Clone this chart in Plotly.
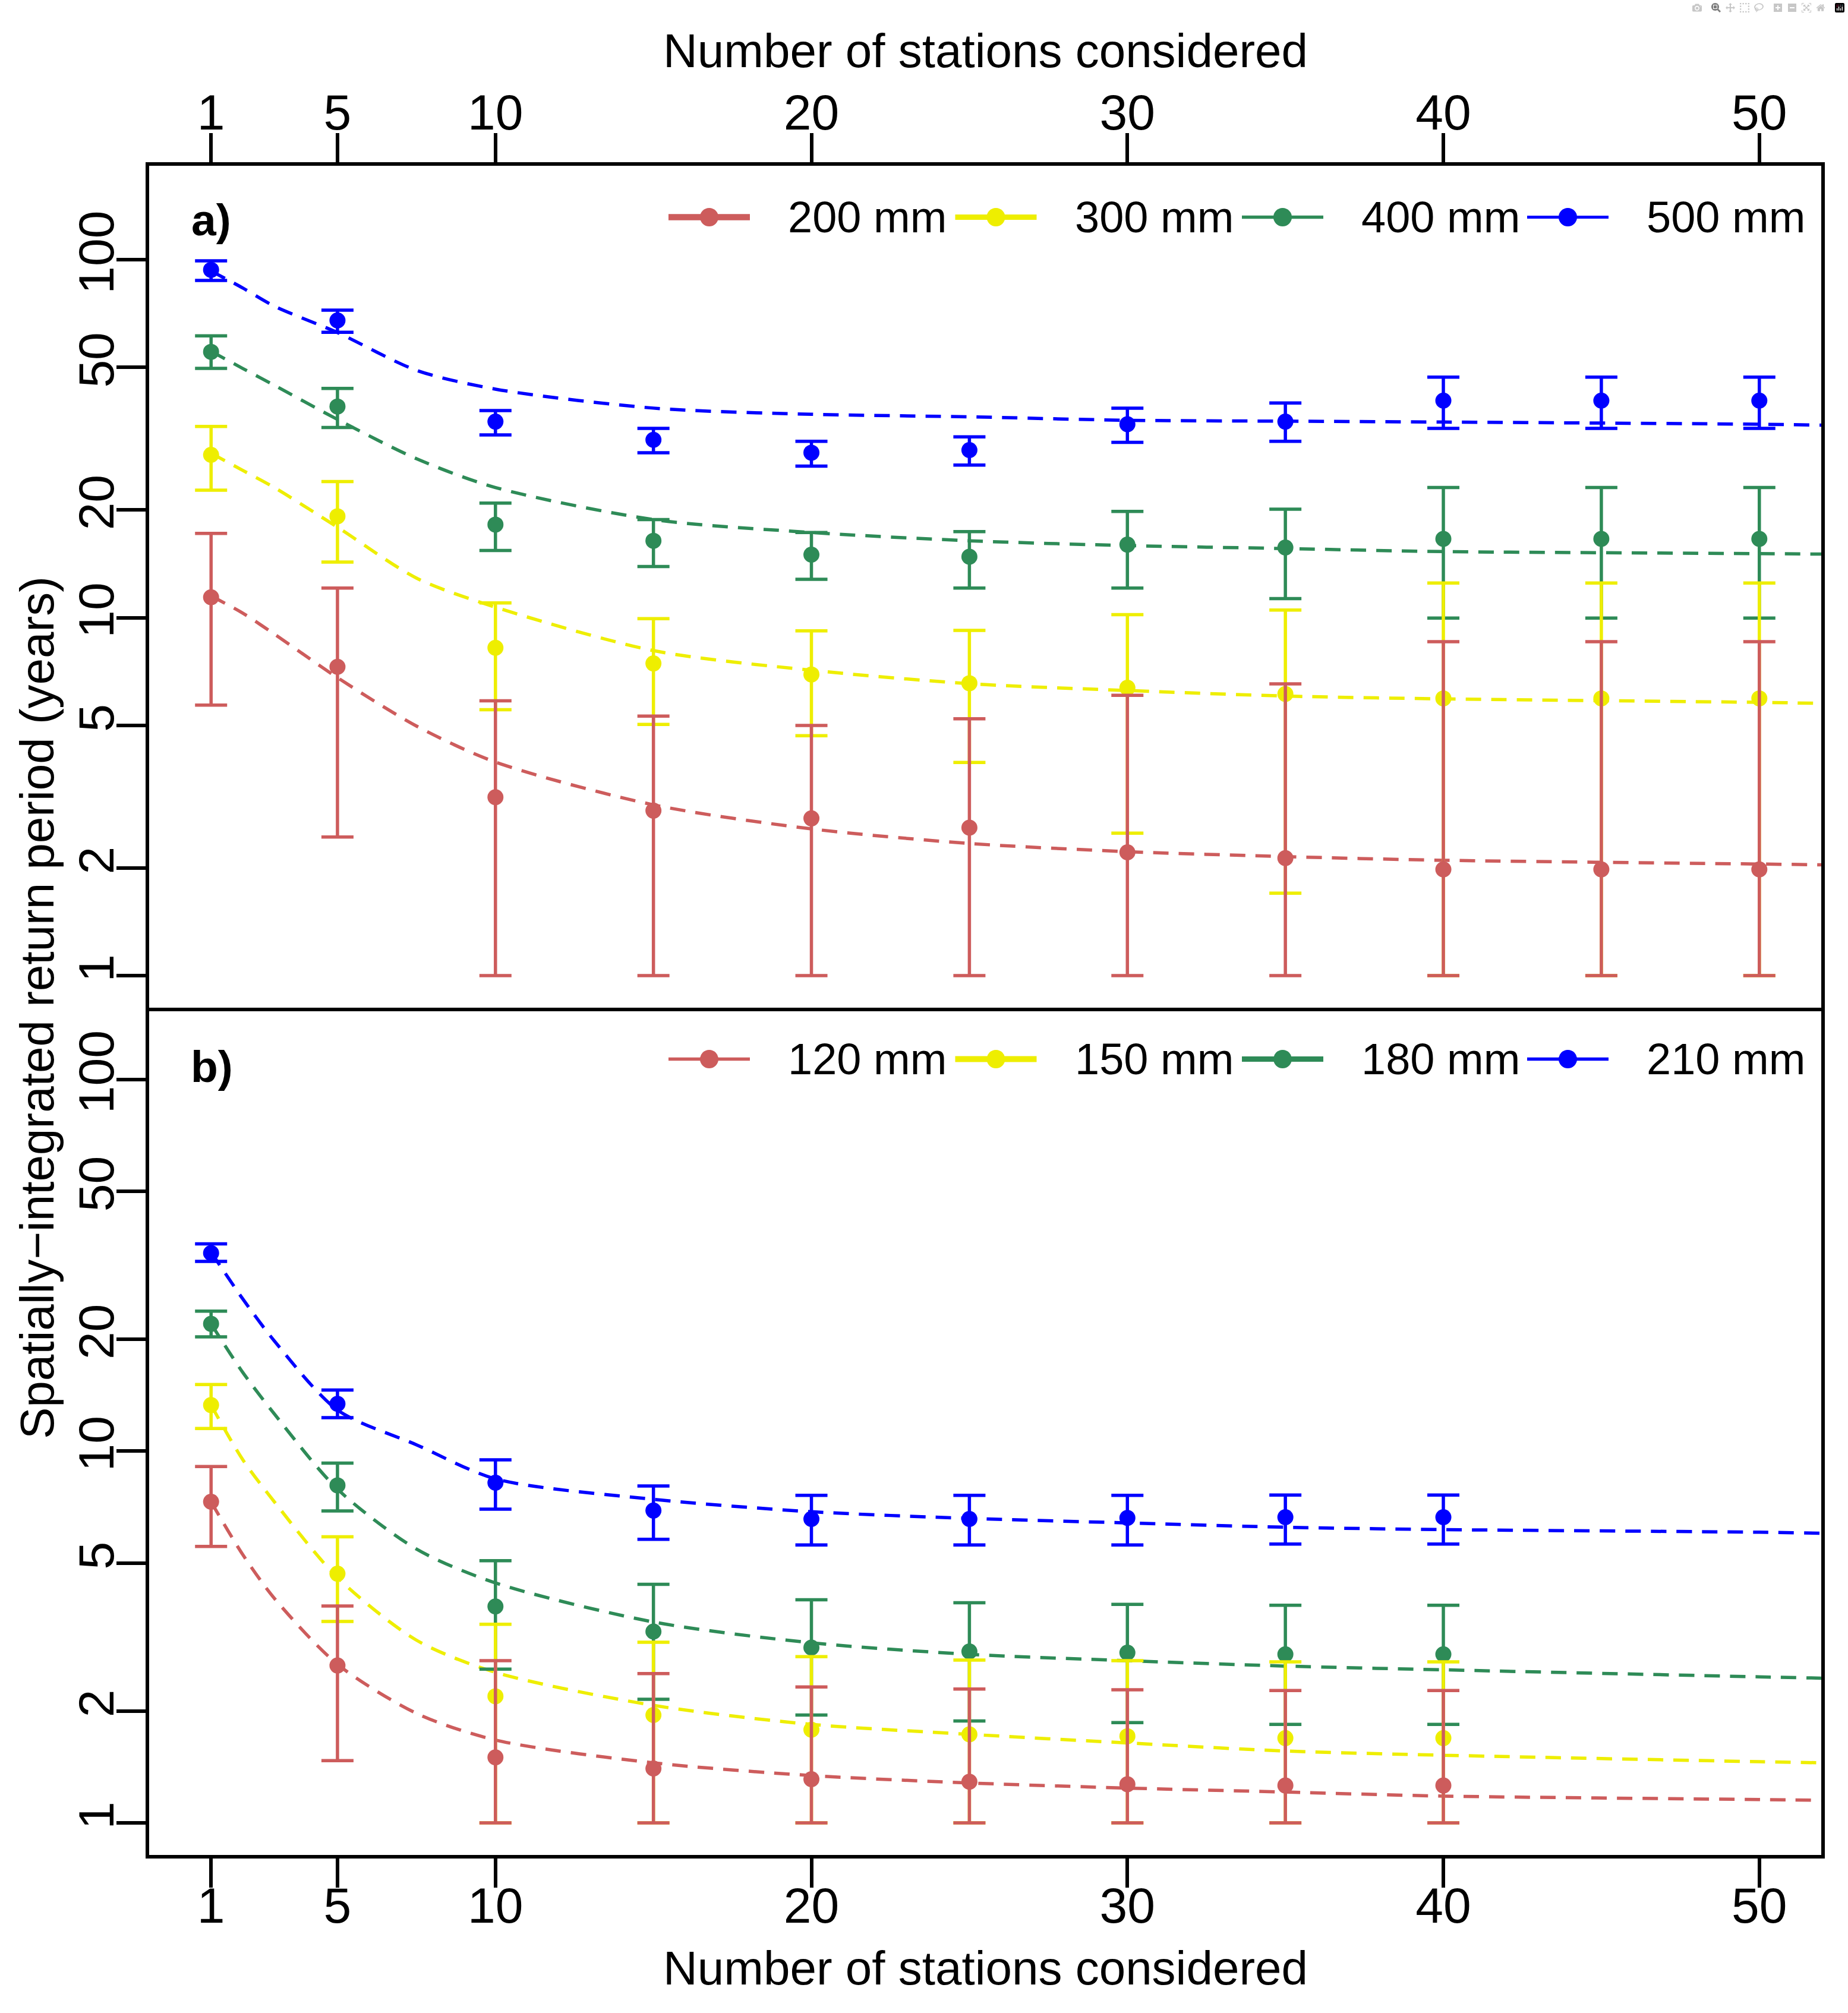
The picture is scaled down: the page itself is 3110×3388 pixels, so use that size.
import plotly.graph_objects as go

# ---------------- data ----------------
stations_a = [1, 5, 10, 15, 20, 25, 30, 35, 40, 45, 50]
stations_b = [1, 5, 10, 15, 20, 25, 30, 35, 40]
curve_x = [1, 2, 3, 5, 7.5, 10, 15, 20, 25, 30, 35, 40, 50, 52]

x_tick_vals = [1, 5, 10, 20, 30, 40, 50]
y_tick_vals = [1, 2, 5, 10, 20, 50, 100]
y_tick_text = ["1", "2", "5", "10", "20", "50", "100"]

labels_a = ["200 mm", "300 mm", "400 mm", "500 mm"]
labels_b = ["120 mm", "150 mm", "180 mm", "210 mm"]
colors = ["#CD5C5C", "#EEEE00", "#2E8B57", "#0000FF"]

# panel a) -- points, upper and lower bounds, fitted curve
a200_mid = [11.4, 7.29, 3.15, 2.89, 2.75, 2.59, 2.21, 2.13, 1.98, 1.98, 1.98]
a200_up = [17.2, 12.1, 5.86, 5.31, 5.00, 5.22, 6.07, 6.53, 8.57, 8.57, 8.57]
a200_lo = [5.70, 2.44, 1.0, 1.0, 1.0, 1.0, 1.0, 1.0, 1.0, 1.0, 1.0]
a200_fit = [11.5, 10.3, 9.0, 6.8, 4.98, 3.95, 3.0, 2.57, 2.34, 2.22, 2.15, 2.10, 2.05, 2.04]

a300_mid = [28.5, 19.2, 8.24, 7.45, 6.94, 6.56, 6.37, 6.12, 5.95, 5.95, 5.95]
a300_up = [34.2, 24.0, 11.0, 9.94, 9.19, 9.21, 10.2, 10.5, 12.5, 12.5, 12.5]
a300_lo = [22.7, 14.3, 5.53, 5.03, 4.68, 3.94, 2.50, 1.70, 1.0, 1.0, 1.0]
a300_fit = [28.8, 25.8, 23.1, 17.9, 12.9, 10.7, 8.09, 7.13, 6.54, 6.26, 6.04, 5.93, 5.80, 5.76]

a400_mid = [55.3, 38.9, 18.2, 16.4, 15.0, 14.8, 16.0, 15.7, 16.6, 16.6, 16.6]
a400_up = [61.3, 43.7, 20.9, 18.8, 17.3, 17.4, 19.8, 20.1, 23.1, 23.1, 23.1]
a400_lo = [49.7, 34.0, 15.4, 13.9, 12.8, 12.1, 12.1, 11.3, 9.97, 9.97, 9.97]
a400_fit = [55.5, 49.7, 44.6, 35.8, 27.8, 23.1, 18.8, 17.3, 16.4, 15.9, 15.6, 15.3, 15.1, 15.05]

a500_mid = [93.7, 67.7, 35.3, 31.4, 28.9, 29.4, 34.7, 35.3, 40.4, 40.4, 40.4]
a500_up = [99.3, 72.3, 37.9, 33.8, 31.1, 32.0, 38.5, 39.8, 47.0, 47.0, 47.0]
a500_lo = [87.5, 62.7, 32.4, 28.9, 26.5, 26.7, 30.9, 31.1, 33.8, 33.8, 33.8]
a500_fit = [93.0, 83.4, 74.2, 62.6, 49.1, 43.5, 38.5, 37.0, 36.4, 35.6, 35.4, 35.2, 34.7, 34.5]

# panel b)
b120_mid = [7.31, 2.65, 1.50, 1.40, 1.31, 1.29, 1.27, 1.26, 1.26]
b120_up = [9.09, 3.83, 2.73, 2.52, 2.32, 2.29, 2.28, 2.27, 2.27]
b120_lo = [5.54, 1.47, 1.0, 1.0, 1.0, 1.0, 1.0, 1.0, 1.0]
b120_fit = [7.3, 5.27, 4.02, 2.67, 1.97, 1.67, 1.45, 1.34, 1.28, 1.24, 1.21, 1.18, 1.155, 1.15]

b150_mid = [13.3, 4.68, 2.19, 1.95, 1.78, 1.73, 1.71, 1.69, 1.69]
b150_up = [15.1, 5.88, 3.42, 3.06, 2.80, 2.74, 2.73, 2.71, 2.71]
b150_lo = [11.5, 3.48, 1.0, 1.0, 1.0, 1.0, 1.0, 1.0, 1.0]
b150_fit = [13.3, 9.49, 7.31, 4.57, 3.1, 2.54, 2.07, 1.84, 1.73, 1.64, 1.56, 1.52, 1.46, 1.45]

b180_mid = [22.0, 8.09, 3.82, 3.27, 2.96, 2.89, 2.87, 2.84, 2.84]
b180_up = [23.8, 9.28, 5.07, 4.38, 3.98, 3.91, 3.87, 3.85, 3.85]
b180_lo = [20.3, 6.90, 2.59, 2.15, 1.95, 1.88, 1.86, 1.84, 1.84]
b180_fit = [22.0, 16.3, 12.6, 7.9, 5.45, 4.42, 3.47, 3.05, 2.84, 2.73, 2.64, 2.58, 2.47, 2.45]

b210_mid = [34.1, 13.4, 8.22, 6.92, 6.57, 6.57, 6.61, 6.64, 6.64]
b210_up = [36.1, 14.6, 9.47, 8.06, 7.60, 7.60, 7.60, 7.62, 7.62]
b210_lo = [32.4, 12.3, 6.98, 5.79, 5.59, 5.59, 5.59, 5.62, 5.62]
b210_fit = [34.3, 25.7, 19.8, 12.9, 10.4, 8.42, 7.42, 6.87, 6.59, 6.41, 6.24, 6.15, 6.05, 6.01]

panel_a = [
    (a200_mid, a200_up, a200_lo, a200_fit),
    (a300_mid, a300_up, a300_lo, a300_fit),
    (a400_mid, a400_up, a400_lo, a400_fit),
    (a500_mid, a500_up, a500_lo, a500_fit),
]
panel_b = [
    (b120_mid, b120_up, b120_lo, b120_fit),
    (b150_mid, b150_up, b150_lo, b150_fit),
    (b180_mid, b180_up, b180_lo, b180_fit),
    (b210_mid, b210_up, b210_lo, b210_fit),
]

# ---------------- layout geometry (pixels) ----------------
W, H = 3110, 3388
PL, PR, PT, PB = 251, 3065, 279, 3122
DIV = 1696
FONT = "Liberation Sans, Arial, Helvetica, sans-serif"


def xp(X):
    return (X - PL) / (PR - PL)


def yp(Y):
    return (PB - Y) / (PB - PT)


split = yp(DIV)

fig = go.Figure()

axes = [("x", "y", stations_a, panel_a), ("x2", "y2", stations_b, panel_b)]
for xa, ya, xs, panel in axes:
    # fitted dashed curves
    for i, (mid, up, lo, fit) in enumerate(panel):
        fig.add_trace(go.Scatter(
            x=curve_x, y=fit, mode="lines", xaxis=xa, yaxis=ya,
            line=dict(color=colors[i], width=5.5, dash="26px,17px", shape="spline", smoothing=0.8),
            showlegend=False, hoverinfo="skip"))
    # points with error bars: blue first, red last (on top)
    for i in [3, 2, 1, 0]:
        mid, up, lo, fit = panel[i]
        fig.add_trace(go.Scatter(
            x=xs, y=mid, mode="markers", xaxis=xa, yaxis=ya,
            marker=dict(color=colors[i], size=27, line=dict(width=0)),
            error_y=dict(type="data", symmetric=False,
                         array=[u - m for u, m in zip(up, mid)],
                         arrayminus=[m - l for m, l in zip(mid, lo)],
                         color=colors[i], thickness=5.5, width=27),
            showlegend=False))

axis_common = dict(showgrid=False, zeroline=False, showline=True, linecolor="black",
                   linewidth=5.5, ticks="outside", ticklen=49, tickwidth=5.5,
                   tickcolor="black", tickfont=dict(family=FONT, size=84, color="black"))

fig.update_layout(
    width=W, height=H,
    margin=dict(l=PL, r=W - PR, t=PT, b=H - PB, pad=0),
    paper_bgcolor="white", plot_bgcolor="white",
    showlegend=False,
    xaxis=dict(domain=[0, 1], anchor="y", side="top", range=[-0.96, 51.96],
               tickvals=x_tick_vals, mirror=True, ticklabelstandoff=-27, **axis_common),
    yaxis=dict(domain=[split, 1], anchor="x", type="log", range=[-0.0896, 2.2625],
               tickvals=y_tick_vals, ticktext=y_tick_text, tickangle=-90,
               mirror=True, ticklabelstandoff=-28, **axis_common),
    xaxis2=dict(domain=[0, 1], anchor="y2", side="bottom", range=[-0.96, 51.96],
                tickvals=x_tick_vals, mirror=False, ticklabelstandoff=-42, **axis_common),
    yaxis2=dict(domain=[0, split], anchor="x2", type="log", range=[-0.0865, 2.193],
                tickvals=y_tick_vals, ticktext=y_tick_text, tickangle=-90,
                mirror=True, ticklabelstandoff=-28, **axis_common),
)

annotations = []
shapes = []
title_font = dict(family=FONT, size=80, color="black")
annotations.append(dict(text="Number of stations considered", x=0.5, y=yp(86), xref="paper", yref="paper",
                        xanchor="center", yanchor="middle", showarrow=False, font=title_font))
annotations.append(dict(text="Number of stations considered", x=0.5, y=yp(3312), xref="paper", yref="paper",
                        xanchor="center", yanchor="middle", showarrow=False, font=title_font))
annotations.append(dict(text="Spatially\u2212integrated return period (years)", x=xp(62), y=yp(1696),
                        xref="paper", yref="paper", xanchor="center", yanchor="middle",
                        textangle=-90, showarrow=False, font=title_font))
annotations.append(dict(text="<b>a)</b>", x=xp(320), y=yp(370), xref="paper", yref="paper",
                        xanchor="left", yanchor="middle", showarrow=False,
                        font=dict(family=FONT, size=75, color="black")))
annotations.append(dict(text="<b>b)</b>", x=xp(319), y=yp(1795), xref="paper", yref="paper",
                        xanchor="left", yanchor="middle", showarrow=False,
                        font=dict(family=FONT, size=75, color="black")))

# manual legends
leg_starts = [1125, 1607.5, 2090, 2570]
leg_len = 137
leg_widths_a = [10.7, 9, 5.5, 5.2]
leg_widths_b = [5.3, 10, 9, 5.3]
for labels, ly, widths in [(labels_a, 365.5, leg_widths_a), (labels_b, 1782.5, leg_widths_b)]:
    for i, lab in enumerate(labels):
        x0 = leg_starts[i]
        shapes.append(dict(type="line", xref="paper", yref="paper",
                           x0=xp(x0), x1=xp(x0 + leg_len), y0=yp(ly), y1=yp(ly),
                           line=dict(color=colors[i], width=widths[i])))
        shapes.append(dict(type="circle", xref="paper", yref="paper",
                           xsizemode="pixel", ysizemode="pixel",
                           xanchor=xp(x0 + leg_len / 2), yanchor=yp(ly),
                           x0=-15.5, x1=15.5, y0=-15.5, y1=15.5,
                           fillcolor=colors[i], line=dict(width=0)))
        annotations.append(dict(text=lab, x=xp(x0 + 199), y=yp(ly), xref="paper", yref="paper",
                                xanchor="left", yanchor="middle", showarrow=False,
                                font=dict(family=FONT, size=74, color="black")))

fig.update_layout(annotations=annotations, shapes=shapes)

fig.write_html("out.html", post_script="document.body.style.margin='0px';")
